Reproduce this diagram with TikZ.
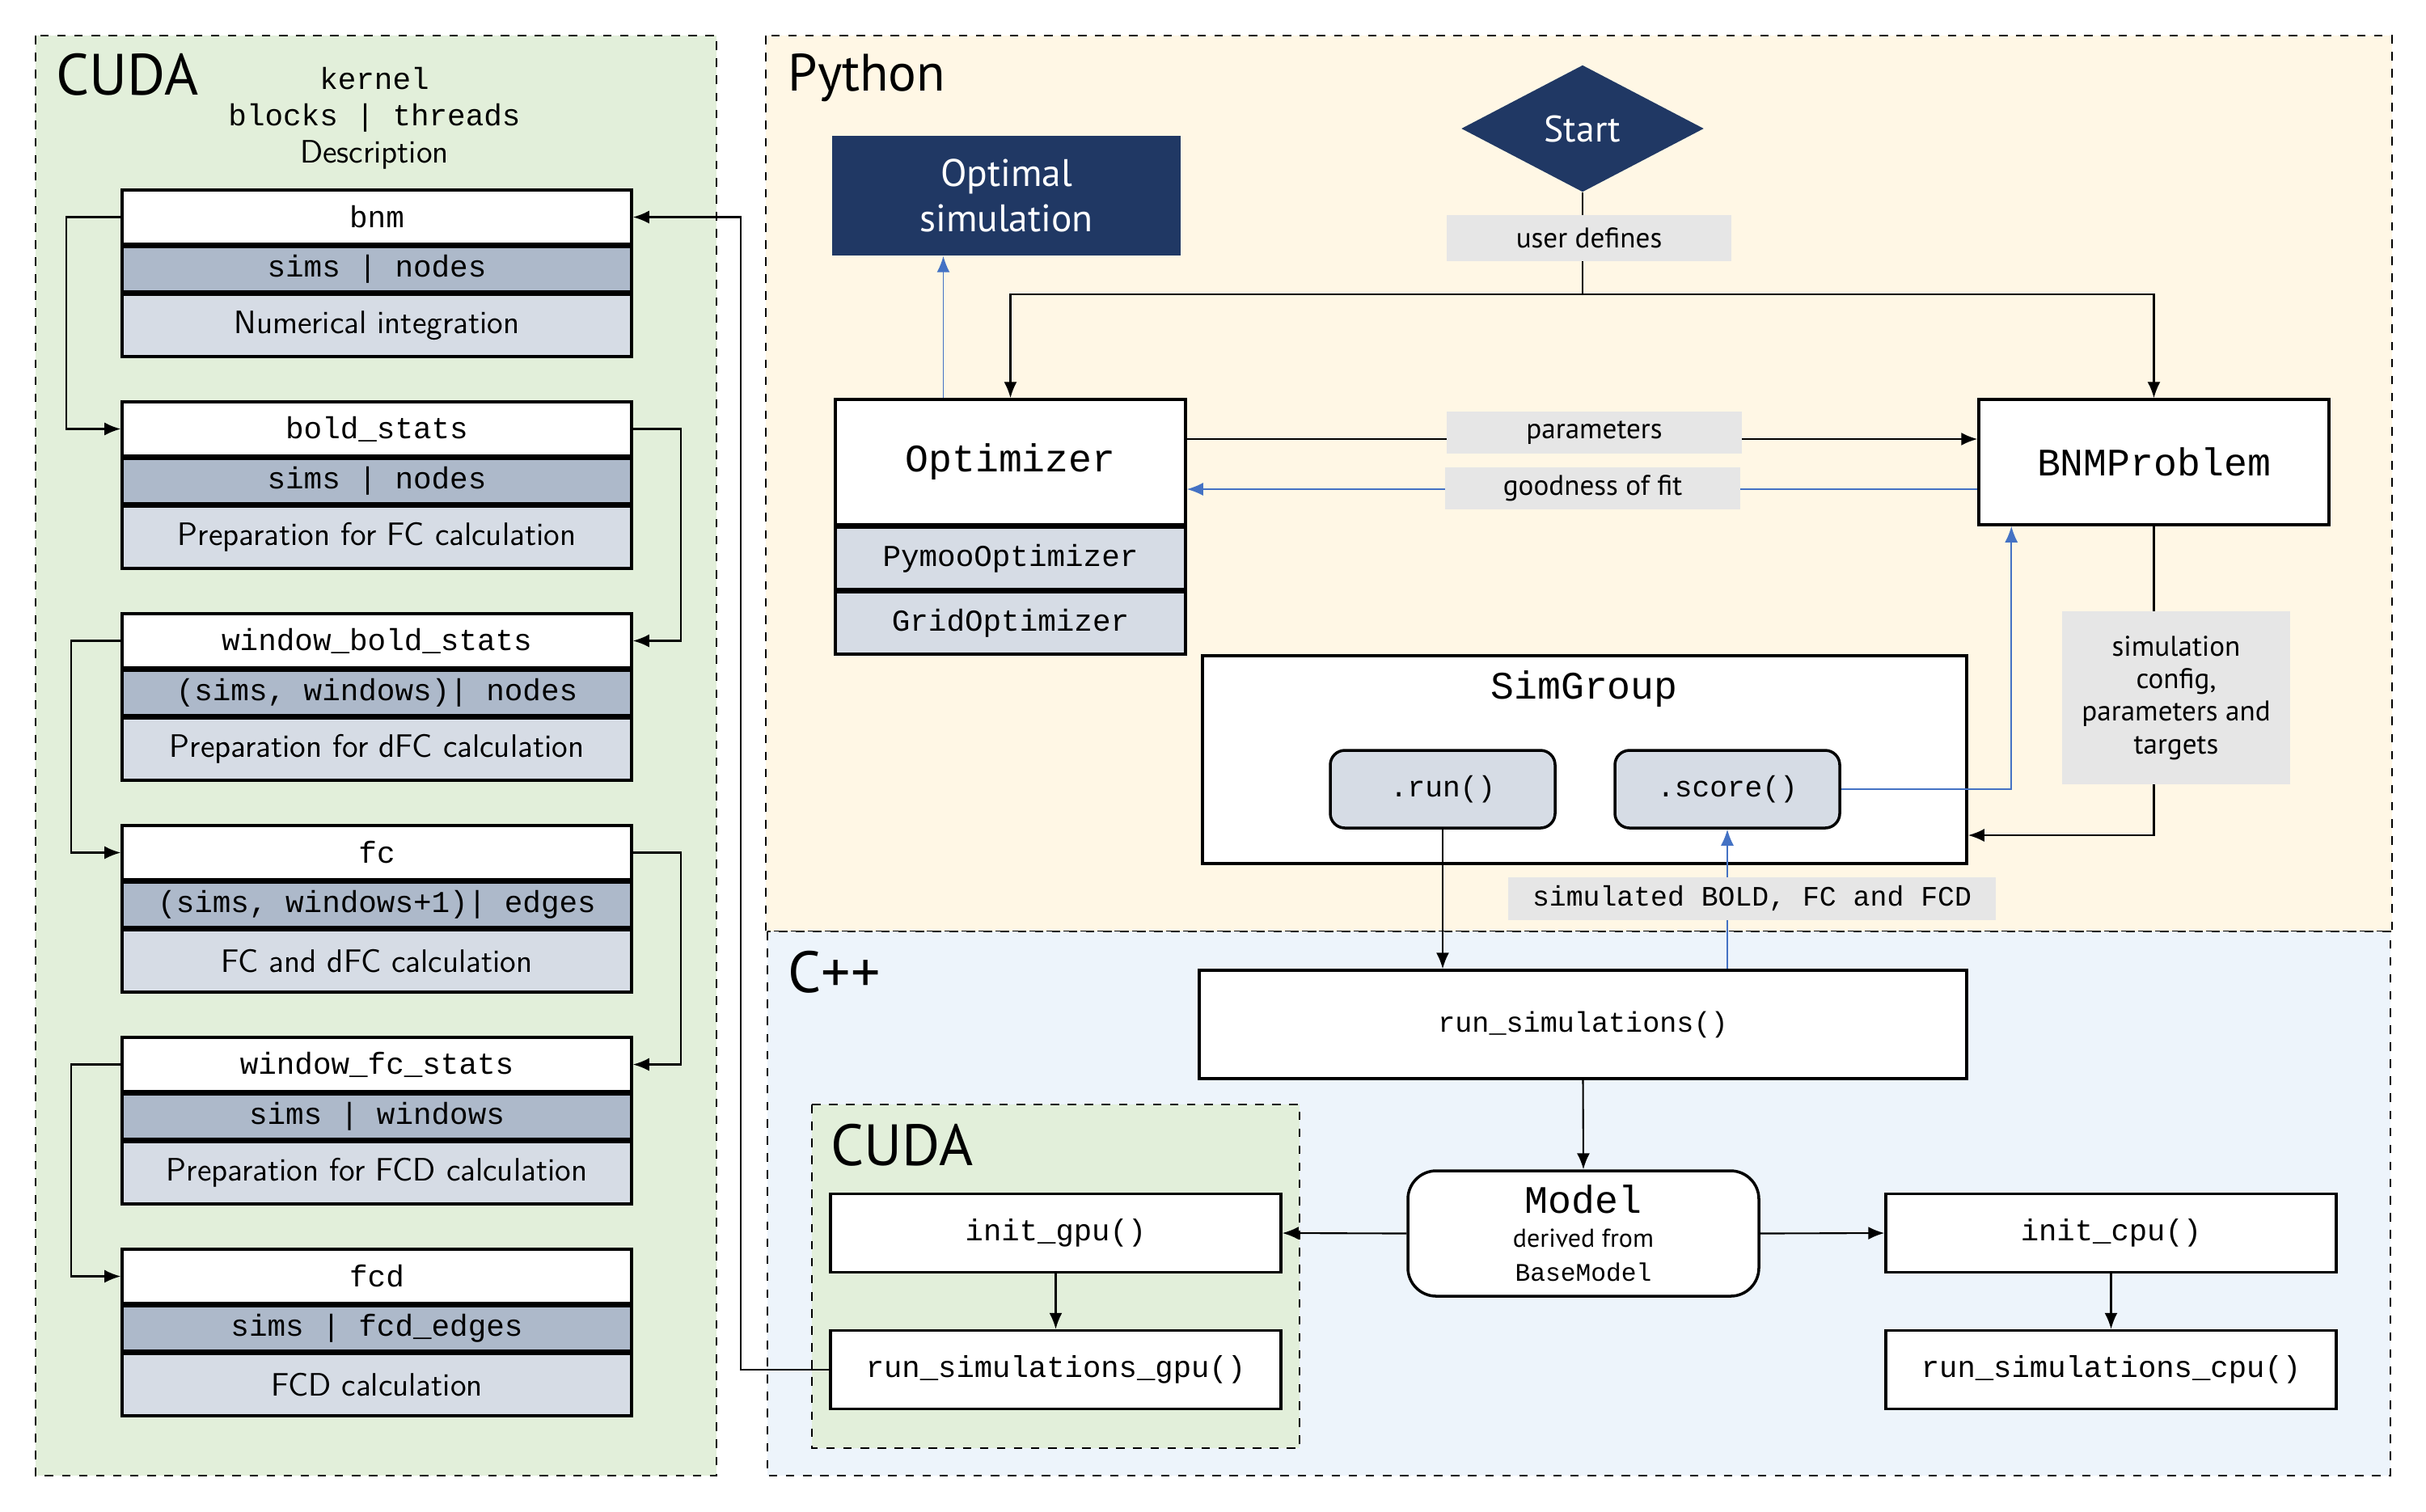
\documentclass[tikz,border=0pt]{standalone}
\usepackage{fontspec}
\setmainfont{PT Sans}
\setmonofont{Liberation Mono}
\usetikzlibrary{arrows.meta,positioning,calc,shapes.geometric}

\definecolor{cudagreen}{HTML}{E2EFDA}
\definecolor{pycream}{HTML}{FFF7E5}
\definecolor{cppblue}{HTML}{EDF4FB}
\definecolor{navyblue}{HTML}{203864}
\definecolor{dimgray}{HTML}{ADB9CA}
\definecolor{descgray}{HTML}{D6DCE5}
\definecolor{taggray}{HTML}{E6E6E6}
\definecolor{fitblue}{HTML}{4472C4}

\tikzset{
  panel/.style={draw,dashed,line width=0.8pt},
  paneltitle/.style={anchor=west,inner sep=0pt,font=\fontsize{20.5}{22}\selectfont},
  box/.style={draw,line width=1pt,fill=white,inner sep=2pt},
  khead/.style={box,minimum width=6.3cm,minimum height=0.67cm,font=\fontsize{10.7}{13}\selectfont\ttfamily},
  kdim/.style={khead,fill=dimgray,minimum height=0.55cm},
  kdesc/.style={khead,fill=descgray,minimum height=0.77cm,font=\fontsize{11.4}{13}\selectfont\sffamily},
  bigtt/.style={font=\fontsize{13.7}{16}\selectfont\ttfamily},
  subclass/.style={khead,fill=descgray,minimum width=4.33cm,minimum height=0.765cm},
  method/.style={box,fill=descgray,rounded corners=0.18cm,minimum width=2.78cm,minimum height=0.96cm,font=\fontsize{10.3}{12}\selectfont\ttfamily},
  fnbox/.style={box,minimum width=5.57cm,minimum height=0.97cm,font=\fontsize{10.6}{12}\selectfont\ttfamily},
  tag/.style={fill=taggray,inner sep=0pt,font=\fontsize{10}{11.5}\selectfont},
  navybox/.style={fill=navyblue,text=white},
  link/.style={semithick,->},
  fitlink/.style={link,fitblue,line width=0.5pt},
}

\begin{document}
\begin{tikzpicture}[x=1cm,y=1cm,>={Latex[length=2mm,width=1.6mm]}]
  \useasboundingbox (0,0) rectangle (30,-18.69);

  % language panels
  \draw[panel,fill=cudagreen] (0.44,-0.44) rectangle (8.86,-18.25);
  \draw[panel,fill=pycream] (9.47,-0.44) rectangle (29.58,-11.52);
  \draw[panel,fill=cppblue] (9.49,-11.52) rectangle (29.56,-18.25);
  \draw[panel,fill=cudagreen] (10.04,-13.66) rectangle (16.07,-17.91);
  \node[paneltitle] (cudatitle) at (0.69,-0.92) {CUDA};
  \node[paneltitle,font=\fontsize{18.5}{20}\selectfont] (pytitle) at (9.74,-0.96) {Python};
  \node[paneltitle] (cpptitle) at (9.74,-12.02) {C++};
  \node[paneltitle] (gputitle) at (10.27,-14.16) {CUDA};

  % kernels
  \node[align=center,font=\fontsize{10.7}{13}\selectfont\ttfamily] (legend) at (4.63,-1.46)
    {kernel\\blocks | threads\\{\sffamily\fontsize{11.4}{13}\selectfont Description}};
  \node[khead] (bnm) at (4.66,-2.685) {bnm};
  \node[kdim,below=0pt of bnm] (bnmdim) {sims | nodes};
  \node[kdesc,below=0pt of bnmdim] (bnmdesc) {Numerical integration};
  \node[khead] (boldstats) at (4.66,-5.305) {bold\_stats};
  \node[kdim,below=0pt of boldstats] (boldstatsdim) {sims | nodes};
  \node[kdesc,below=0pt of boldstatsdim] (boldstatsdesc) {Preparation for FC calculation};
  \node[khead] (winboldstats) at (4.66,-7.925) {window\_bold\_stats};
  \node[kdim,below=0pt of winboldstats] (winboldstatsdim) {(sims, windows)| nodes};
  \node[kdesc,below=0pt of winboldstatsdim] (winboldstatsdesc) {Preparation for dFC calculation};
  \node[khead] (fc) at (4.66,-10.545) {fc};
  \node[kdim,below=0pt of fc] (fcdim) {(sims, windows+1)| edges};
  \node[kdesc,below=0pt of fcdim] (fcdesc) {FC and dFC calculation};
  \node[khead] (winfcstats) at (4.66,-13.165) {window\_fc\_stats};
  \node[kdim,below=0pt of winfcstats] (winfcstatsdim) {sims | windows};
  \node[kdesc,below=0pt of winfcstatsdim] (winfcstatsdesc) {Preparation for FCD calculation};
  \node[khead] (fcd) at (4.66,-15.785) {fcd};
  \node[kdim,below=0pt of fcd] (fcddim) {sims | fcd\_edges};
  \node[kdesc,below=0pt of fcddim] (fcddesc) {FCD calculation};

  % python side
  \node[diamond,navybox,minimum width=3cm,minimum height=1.57cm,inner sep=0pt,font=\fontsize{13}{15}\selectfont] (start) at (19.57,-1.59) {Start};
  \coordinate (split) at (19.57,-3.64);
  \node[navybox,minimum width=4.31cm,minimum height=1.48cm,align=center,font=\fontsize{13.5}{16}\selectfont] (optsim) at (12.445,-2.42) {Optimal\\simulation};
  \node[box,bigtt,minimum width=4.33cm,minimum height=1.55cm] (optimizer) at (12.495,-5.715) {Optimizer};
  \node[subclass,below=0pt of optimizer] (pymoo) {PymooOptimizer};
  \node[subclass,below=0pt of pymoo] (gridopt) {GridOptimizer};
  \node[box,bigtt,minimum width=4.33cm,minimum height=1.55cm] (bnmproblem) at (26.635,-5.715) {BNMProblem};
  \node[box,minimum width=9.45cm,minimum height=2.57cm] (simgroup) at (19.595,-9.395) {};
  \node[bigtt] (sgtitle) at (19.59,-8.52) {SimGroup};
  \node[method] (run) at (17.84,-9.76) {.run()};
  \node[method] (score) at (21.36,-9.76) {.score()};

  % c++ side
  \node[box,minimum width=9.49cm,minimum height=1.34cm,font=\fontsize{10}{12}\selectfont\ttfamily] (runsims) at (19.575,-12.67) {run\_simulations()};
  \node[box,rounded corners=0.35cm,minimum width=4.34cm,minimum height=1.55cm,align=center] (model) at (19.58,-15.255)
    {{\fontsize{13.7}{14}\selectfont\ttfamily Model}\\{\fontsize{9.1}{10.5}\selectfont derived from}\\{\fontsize{8.9}{10.2}\selectfont\ttfamily BaseModel}};
  \node[fnbox] (initgpu) at (13.055,-15.25) {init\_gpu()};
  \node[fnbox] (runsimsgpu) at (13.055,-16.94) {run\_simulations\_gpu()};
  \node[fnbox] (initcpu) at (26.105,-15.25) {init\_cpu()};
  \node[fnbox] (runsimscpu) at (26.105,-16.94) {run\_simulations\_cpu()};

  % connectors
  \draw[link] (bnm.west) -- ++(-0.67,0) |- (boldstats.west);
  \draw[link] (boldstats.east) -- ++(0.59,0) |- (winboldstats.east);
  \draw[link] (winboldstats.west) -- ++(-0.61,0) |- (fc.west);
  \draw[link] (fc.east) -- ++(0.59,0) |- (winfcstats.east);
  \draw[link] (winfcstats.west) -- ++(-0.61,0) |- (fcd.west);
  \draw[semithick] (start.south) -- (split);
  \draw[link] (split) -| (optimizer.north);
  \draw[link] (split) -| (bnmproblem.north);
  \draw[fitlink] ([xshift=-8.3mm]optimizer.north) -- ([xshift=-8.3mm]optimizer.north |- optsim.south);
  \draw[link] ([yshift=2.85mm]optimizer.east) -- ([yshift=2.85mm]bnmproblem.west);
  \draw[fitlink] ([yshift=-3.35mm]bnmproblem.west) -- ([yshift=-3.35mm]optimizer.east);
  \draw[fitlink] (score.east) -| ($(bnmproblem.south west)+(0.42,0)$);
  \draw[link] (bnmproblem.south) |- ([yshift=-9.35mm]simgroup.east);
  \draw[link] (run.south) -- (run.south |- runsims.north);
  \draw[fitlink] (runsims.north -| score.south) -- (score.south);
  \draw[link] (runsims.south) -- (model.north);
  \draw[link] (model.west) -- (initgpu.east);
  \draw[link] (model.east) -- (initcpu.west);
  \draw[link] (initgpu) -- (runsimsgpu);
  \draw[link] (initcpu) -- (runsimscpu);
  \draw[link] (runsimsgpu.west) -- ++(-1.09,0) |- (bnm.east);

  % labels on the lines
  \node[tag,minimum width=3.52cm,minimum height=0.57cm] (userdef) at (19.65,-2.945) {user defines};
  \node[tag,minimum width=3.65cm,minimum height=0.52cm] (params) at (19.715,-5.35) {parameters};
  \node[tag,minimum width=3.65cm,minimum height=0.52cm] (goodness) at (19.695,-6.04) {goodness of fit};
  \node[tag,minimum width=2.82cm,minimum height=2.14cm,align=center] (simcfg) at (26.91,-8.63) {simulation\\config,\\parameters and\\targets};
  \node[tag,minimum width=6.03cm,minimum height=0.53cm,font=\fontsize{9.9}{12}\selectfont\ttfamily] (simout) at (21.665,-11.11) {simulated BOLD, FC and FCD};
\end{tikzpicture}
\end{document}
